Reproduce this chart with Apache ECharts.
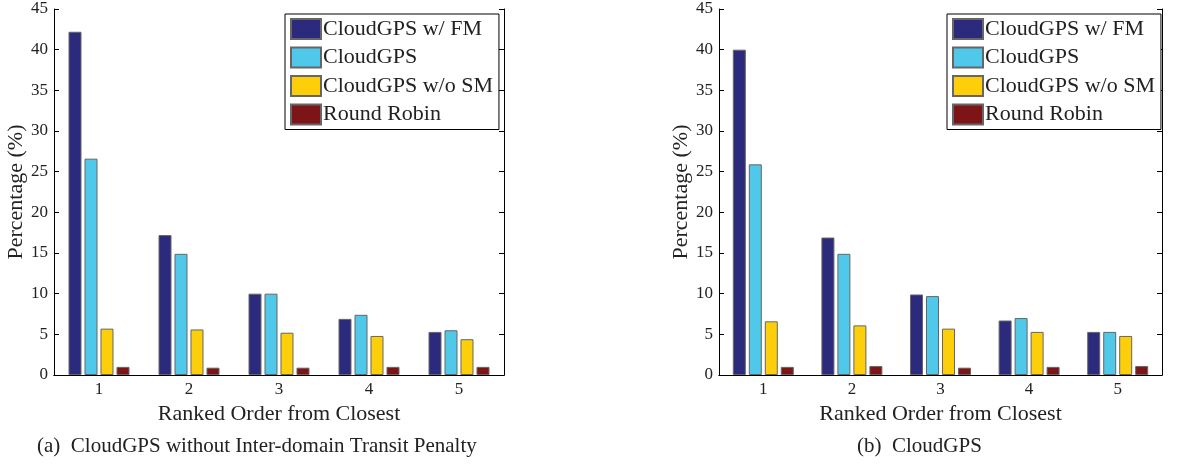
<!DOCTYPE html>
<html>
 <head>
  <meta charset="utf-8" />
  <title>CloudGPS ranked order</title>
  <script src="https://cdn.jsdelivr.net/npm/echarts@6/dist/echarts.min.js"></script>
  <style>
   body { margin: 0; background: #fff; }
  </style>
 </head>
 <body>
  <div id="main" style="width: 1188px;height:464px;"></div>
  <script type="text/javascript">

    // categories and tick labels
    var categories = ['1', '2', '3', '4', '5'];
    var seriesNames = ['CloudGPS w/ FM', 'CloudGPS', 'CloudGPS w/o SM', 'Round Robin'];

    // (a) without inter-domain transit penalty
    var aFM    = [42.2, 17.2, 10.0, 6.9, 5.3];
    var aCloud = [26.6, 14.9, 10.0, 7.4, 5.5];
    var aNoSM  = [5.7, 5.6, 5.2, 4.8, 4.4];
    var aRR    = [1.0, 0.9, 0.9, 1.0, 1.0];

    // (b) CloudGPS
    var bFM    = [40.0, 16.9, 9.9, 6.7, 5.3];
    var bCloud = [25.9, 14.9, 9.7, 7.0, 5.3];
    var bNoSM  = [6.6, 6.1, 5.7, 5.3, 4.8];
    var bRR    = [1.0, 1.1, 0.9, 1.0, 1.1];

    var colors = ['#2b2a7c', '#50c8ea', '#fdcf0b', '#7d1417'];
    var font = '"Liberation Serif", "DejaVu Serif", serif';

    var myChart = echarts.init(document.getElementById('main'));

    function bottomX(idx) {
        return {
            type: 'category', gridIndex: idx, data: categories, position: 'bottom',
            name: 'Ranked Order from Closest', nameLocation: 'middle', nameGap: 21,
            nameTextStyle: { fontFamily: font, fontSize: 22, color: '#222' },
            axisLine: { lineStyle: { color: '#000', width: 1 } },
            axisTick: { inside: true, alignWithLabel: true, length: 5, lineStyle: { color: '#000' } },
            axisLabel: { fontFamily: font, fontSize: 17, color: '#222', margin: 6 },
            splitLine: { show: false }
        };
    }
    function topX(idx) {
        return {
            type: 'category', gridIndex: idx, data: categories, position: 'top',
            axisLine: { lineStyle: { color: '#000', width: 1 } },
            axisTick: { inside: true, alignWithLabel: true, length: 5, lineStyle: { color: '#000' } },
            axisLabel: { show: false }
        };
    }
    function leftY(idx, gap) {
        return {
            type: 'value', gridIndex: idx, min: 0, max: 45, interval: 5, position: 'left',
            name: 'Percentage (%)', nameLocation: 'middle', nameGap: gap,
            nameTextStyle: { fontFamily: font, fontSize: 22, color: '#222' },
            axisLine: { show: true, lineStyle: { color: '#000', width: 1 } },
            axisTick: { show: true, inside: true, length: 5, lineStyle: { color: '#000' } },
            axisLabel: { fontFamily: font, fontSize: 17, color: '#222', margin: 6 },
            splitLine: { show: false }
        };
    }
    function rightY(idx) {
        return {
            type: 'value', gridIndex: idx, min: 0, max: 45, interval: 5, position: 'right',
            axisLine: { show: true, lineStyle: { color: '#000', width: 1 } },
            axisTick: { show: true, inside: true, length: 5, lineStyle: { color: '#000' } },
            axisLabel: { show: false },
            splitLine: { show: false }
        };
    }
    function bars(idx, lists) {
        return lists.map(function (vals, i) {
            return {
                name: seriesNames[i], type: 'bar', xAxisIndex: idx * 2, yAxisIndex: idx * 2,
                data: vals, barWidth: 13, barGap: '23%',
                itemStyle: { color: colors[i], borderColor: '#666', borderWidth: 1 }
            };
        });
    }
    function legend(left) {
        return {
            data: seriesNames, orient: 'vertical', left: left, top: 14,
            icon: 'rect', itemWidth: 30, itemHeight: 20, itemGap: 6.5,
            padding: [4, 6, 4, 5],
            borderColor: '#000', borderWidth: 1, backgroundColor: '#fff',
            textStyle: { fontFamily: font, fontSize: 22, color: '#222', padding: [0, 0, 0, -3] },
            selectedMode: false
        };
    }

    var option = {
        animation: false,
        color: colors,
        grid: [
            { left: 54, top: 9, width: 450, height: 366 },
            { left: 719, top: 9, width: 443, height: 366 }
        ],
        xAxis: [bottomX(0), topX(0), bottomX(1), topX(1)],
        yAxis: [leftY(0, 25), rightY(0), leftY(1, 25), rightY(1)],
        legend: [legend(285), legend(947)],
        series: bars(0, [aFM, aCloud, aNoSM, aRR]).concat(
            bars(1, [bFM, bCloud, bNoSM, bRR]).map(function (s) {
                s.xAxisIndex = 2; s.yAxisIndex = 2; return s;
            })),
        graphic: [
            { type: 'text', left: 37, top: 436,
              style: { text: '(a)  CloudGPS without Inter-domain Transit Penalty', font: '21px "Liberation Serif"', fill: '#222' } },
            { type: 'text', left: 857, top: 436,
              style: { text: '(b)  CloudGPS', font: '21px "Liberation Serif"', fill: '#222' } }
        ]
    };
    myChart.setOption(option);
</script>
 </body>
</html>
